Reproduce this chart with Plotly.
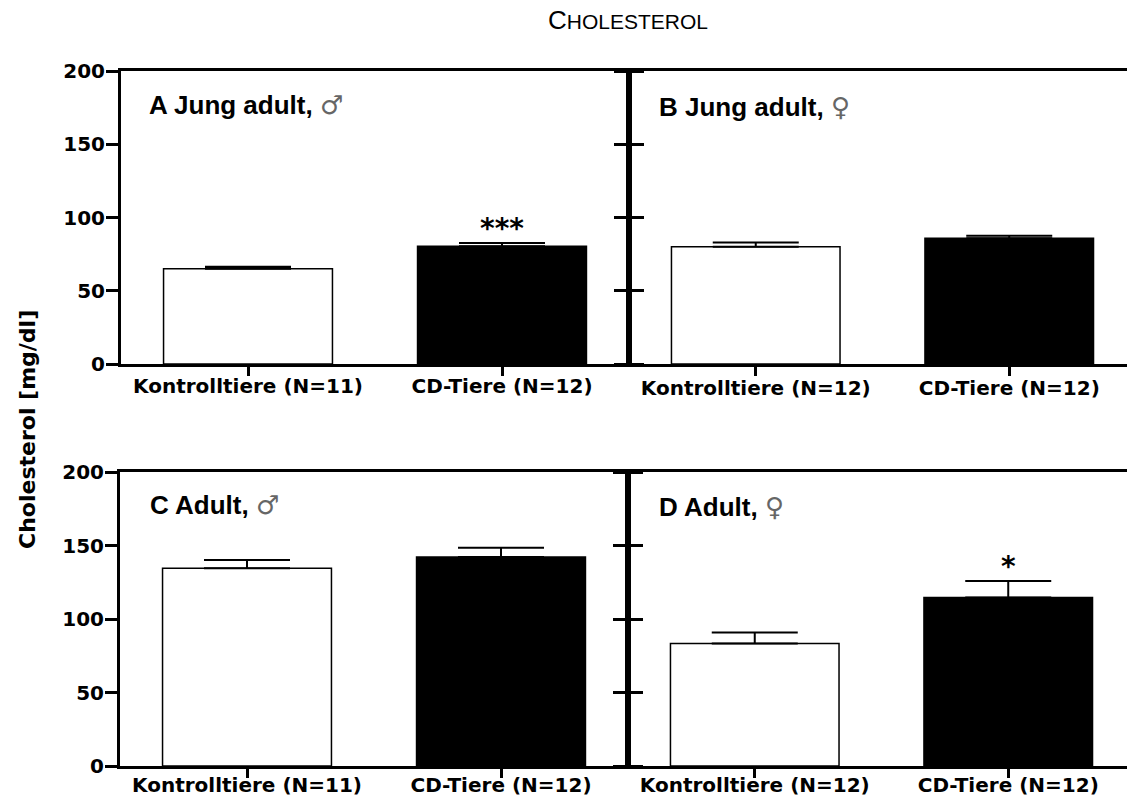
import plotly.graph_objects as go

# ---------------- data ----------------
cats_AC = ["Kontrolltiere (N=11)", "CD-Tiere (N=12)"]
cats_BD = ["Kontrolltiere (N=12)", "CD-Tiere (N=12)"]

mean_A = [65.0, 80.3]
sem_A = [1.3, 2.3]
mean_B = [80.1, 85.8]
sem_B = [2.9, 1.8]
mean_C = [134.6, 142.1]
sem_C = [5.5, 6.4]
mean_D = [83.3, 114.6]
sem_D = [7.5, 11.2]

panel_titles = ["A Jung adult,", "B Jung adult,", "C Adult,", "D Adult,"]
panel_symbols = ["\u2642", "\u2640", "\u2642", "\u2640"]
stars_A = ["", "***"]
stars_D = ["", "*"]

y_ticks = [0, 50, 100, 150, 200]

# ---------------- layout geometry ----------------
W, H = 1127, 803
def px_x(a, b):
    return [a / W, min(b / W, 1.0)]
def px_y(top, bottom):
    return [1 - bottom / H, 1 - top / H]

TICKFONT = dict(family="DejaVu Sans", size=20, color="black", weight="bold")
ARIAL = "Arial, Liberation Sans, sans-serif"

fig = go.Figure()

panels = [
    ("x", "y", cats_AC, mean_A, sem_A),
    ("x2", "y2", cats_BD, mean_B, sem_B),
    ("x3", "y3", cats_AC, mean_C, sem_C),
    ("x4", "y4", cats_BD, mean_D, sem_D),
]
for xa, ya, cats, m, s in panels:
    fig.add_trace(go.Bar(
        x=cats, y=m, xaxis=xa, yaxis=ya, width=0.665,
        marker=dict(color=["white", "black"], line=dict(color="black", width=1.5)),
        error_y=dict(type="data", array=s, arrayminus=[0] * len(s), symmetric=False,
                     color="black", thickness=2, width=43),
        showlegend=False, hoverinfo="x+y",
    ))

full_w = 254.0  # px per category
def xaxis(domain, cats, anchor, right_px=None, standoff=-7):
    rng_hi = 1.5
    if right_px is not None:
        rng_hi = 1.5 - right_px / full_w
    return dict(domain=domain, anchor=anchor, type="category", categoryorder="array",
                categoryarray=cats, range=[-0.5, rng_hi],
                showline=True, linecolor="black", linewidth=2.5, mirror=True,
                ticks="outside", ticklen=9, tickwidth=2.5, tickcolor="black",
                ticklabelstandoff=standoff,
                tickfont=TICKFONT, showgrid=False, zeroline=False, fixedrange=True)

def yaxis(domain, anchor, labels, mirror):
    return dict(domain=domain, anchor=anchor, range=[0, 200], tickvals=y_ticks,
                showline=True, linecolor="black", linewidth=3, mirror=mirror,
                ticks="outside", ticklen=12, tickwidth=2.5, tickcolor="black",
                ticklabelstandoff=-3,
                showticklabels=labels, tickfont=TICKFONT,
                showgrid=False, zeroline=False, fixedrange=True)

top_dom = px_y(71, 364)
bot_dom = px_y(472, 766)
fig.update_layout(
    xaxis=xaxis(px_x(121, 629), cats_AC, "y"),
    xaxis2=xaxis(px_x(629, W), cats_BD, "y2", right_px=1136 - W, standoff=-5),
    xaxis3=xaxis(px_x(120, 628), cats_AC, "y3", standoff=-10),
    xaxis4=xaxis(px_x(628, W), cats_BD, "y4", right_px=1135 - W, standoff=-10),
    yaxis=yaxis(top_dom, "x", True, "ticks"),
    yaxis2=yaxis(top_dom, "x2", False, False),
    yaxis3=yaxis(bot_dom, "x3", True, "ticks"),
    yaxis4=yaxis(bot_dom, "x4", False, False),
)

annotations = []
# significance stars
for xa, ya, cats, m, s, st in [("x", "y", cats_AC, mean_A, sem_A, stars_A),
                               ("x4", "y4", cats_BD, mean_D, sem_D, stars_D)]:
    for c, mv, sv, t in zip(cats, m, s, st):
        if t:
            annotations.append(dict(x=c, y=mv + sv, xref=xa, yref=ya, text=f"<b>{t}</b>",
                                    showarrow=False, yanchor="bottom", yshift=-4,
                                    font=dict(family="DejaVu Sans", size=28, color="black")))

# panel labels
label_pos = [(147, 105), (657, 107), (148, 505), (657, 507)]
for (lx, ly), t, sym in zip(label_pos, panel_titles, panel_symbols):
    annotations.append(dict(
        x=lx / W, y=1 - ly / H, xref="paper", yref="paper", xanchor="left", yanchor="middle",
        text=f"<b>{t}</b> <span style='font-family:DejaVu Sans;color:#666'>{sym}</span>",
        showarrow=False, font=dict(family=ARIAL, size=26, color="black")))

# title (small caps)
annotations.append(dict(
    x=628 / W, y=1 - 20 / H, xref="paper", yref="paper", xanchor="center", yanchor="middle",
    text="<span style='font-size:26px'>C</span>HOLESTEROL", showarrow=False,
    font=dict(family=ARIAL, size=21, color="black")))

# y-axis title
annotations.append(dict(
    x=27 / W, y=1 - 430 / H, xref="paper", yref="paper", xanchor="center", yanchor="middle",
    text="<b>Cholesterol [mg/dl]</b>", textangle=-90, showarrow=False,
    font=dict(family="DejaVu Sans", size=22, color="black")))

fig.update_layout(
    annotations=annotations,
    width=W, height=H,
    margin=dict(l=0, r=0, t=0, b=0, pad=0, autoexpand=False),
    paper_bgcolor="white", plot_bgcolor="white",
    bargap=0.3,
)

fig.write_html("out.html", config={"displayModeBar": False})
